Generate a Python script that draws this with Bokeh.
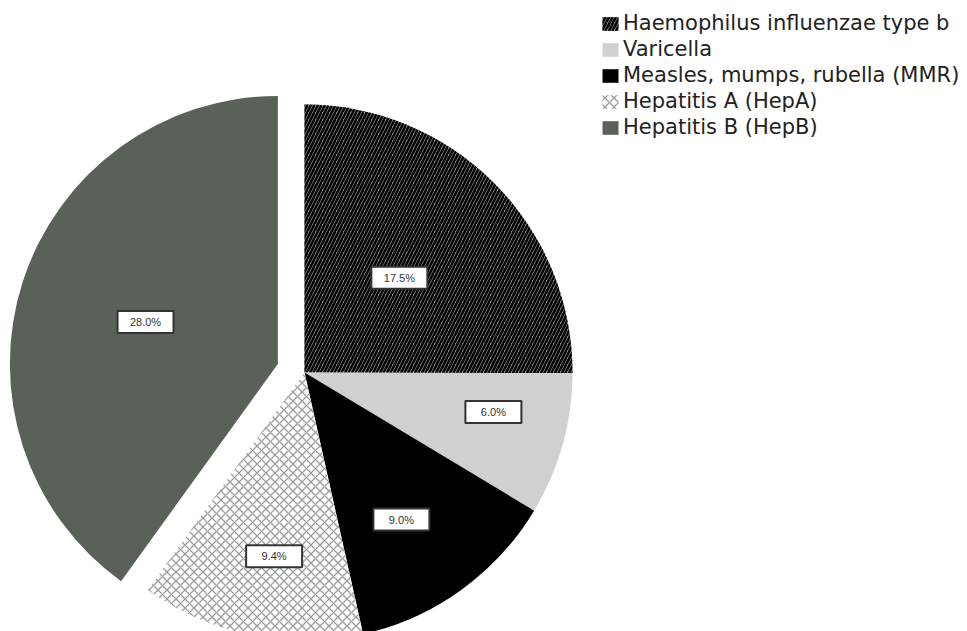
import numpy as np
from bokeh.plotting import figure
from bokeh.models import ColumnDataSource, Range1d, Legend, LegendItem
from bokeh.core.properties import value
from bokeh.embed import file_html
from bokeh.resources import INLINE

# ---- data ----
categories = ["Haemophilus influenzae type b", "Varicella",
              "Measles, mumps, rubella (MMR)", "Hepatitis A (HepA)",
              "Hepatitis B (HepB)"]
values = [17.5, 6.0, 9.0, 9.4, 28.0]
label_texts = [f"{v:.1f}%" for v in values]

# ---- styles ----
fill_colors = ["#8a8a8a", "#d0d0d0", "#000000", "#ffffff", "#596159"]
hatch_patterns = ["right_diagonal_line", "blank", "blank", "diagonal_cross", "blank"]
hatch_colors = ["#000000", "#d0d0d0", "#000000", "#959f96", "#596159"]
hatch_scales = [7, 12, 12, 9, 12]
hatch_weights = [2.5, 1, 1, 1.3, 1]
explode = [0, 0, 0, 0, 28]
label_frac = [0.50, 0.72, 0.657, 0.695, 0.518]
label_dang = [0.0, -3.8, 2.4, -2.2, -0.3]

W, H = 967, 631
cx, cy, R = 304, 631 - 372, 268

vals = np.array(values)
cum = np.concatenate([[0], np.cumsum(vals)]) / vals.sum() * 360.0  # clockwise from top, degrees
start_c, end_c = cum[:-1], cum[1:]
mid_c = (start_c + end_c) / 2
dx = np.sin(np.radians(mid_c))
dy = np.cos(np.radians(mid_c))
xs = cx + dx * np.array(explode)
ys = cy + dy * np.array(explode)
lab_c = mid_c + np.array(label_dang)
lx = xs + np.sin(np.radians(lab_c)) * R * np.array(label_frac)
ly = ys + np.cos(np.radians(lab_c)) * R * np.array(label_frac)

src = ColumnDataSource(dict(
    x=xs, y=ys,
    start=np.radians(90 - end_c), end=np.radians(90 - start_c),
    fill=fill_colors, hatch=hatch_patterns, hcolor=hatch_colors,
    hscale=hatch_scales, hweight=hatch_weights,
    lx=lx, ly=ly, label=label_texts, cat=categories,
))

p = figure(width=W, height=H, x_range=Range1d(0, W), y_range=Range1d(631 - H, 631),
           output_backend="svg", toolbar_location=None, min_border=0,
           x_axis_location=None, y_axis_location=None, outline_line_color=None)
p.grid.visible = False

r = p.wedge(x="x", y="y", radius=R, start_angle="start", end_angle="end", source=src,
            fill_color="fill", line_color=None, hatch_pattern="hatch", hatch_color="hcolor",
            hatch_scale="hscale", hatch_weight="hweight")

p.rect(x="lx", y="ly", width=56, height=22, width_units="screen", height_units="screen",
       source=src, fill_color="white", line_color="#333333", line_width=2)
p.text(x="lx", y="ly", text="label", source=src, text_align="center", text_baseline="middle",
       text_font=value("Liberation Sans"), text_font_size="11px", text_color="#333333")

items = [LegendItem(label=categories[i], renderers=[r], index=i) for i in range(len(categories))]
legend = Legend(items=items, location=(600, 492), orientation="vertical",
                border_line_color=None, background_fill_alpha=0,
                glyph_width=20, glyph_height=17, label_standoff=3, spacing=2,
                padding=0, margin=0,
                label_text_font="DejaVu Sans", label_text_font_size="21px",
                label_text_color="#222222")
p.add_layout(legend)

open("out.html", "w").write(file_html(p, INLINE))
